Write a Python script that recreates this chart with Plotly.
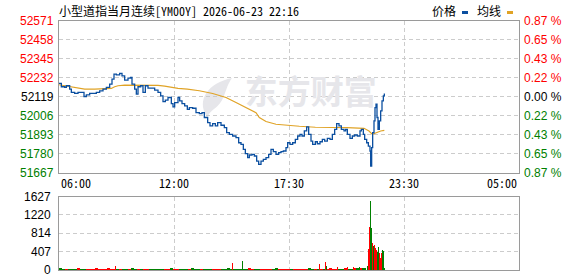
import plotly.graph_objects as go
import numpy as np

W, H = 578, 276

# ---------------- data ----------------
title_text = "小型道指当月连续[YM00Y] 2026-06-23 22:16"
prev_close = 52119
price_ticks = [51667, 51780, 51893, 52006, 52119, 52232, 52345, 52458, 52571]
vol_ticks = [0, 407, 814, 1220, 1627]
time_ticks = [0, 345, 690, 1035, 1380]
time_labels = ["06:00", "12:00", "17:30", "23:30", "05:00"]

# minutes since 06:00
price_min = [0, 7, 17, 22, 32, 37, 47, 57, 67, 75, 82, 92, 102, 112, 122, 132, 142, 152, 159, 165,
             172, 182, 189, 197, 207, 215, 219, 227, 232, 237, 245, 252, 259, 267, 277, 287, 297, 305,
             312, 319, 327, 337, 342, 347, 357, 362, 369, 377, 385, 391, 401, 411, 421, 429, 436, 446,
             453, 461, 469, 476, 486, 496, 503, 511, 521, 531, 539, 546, 553, 559, 566, 571, 579, 586,
             593, 599, 606, 613, 621, 629, 636, 643, 651, 659, 666, 673, 681, 686, 693, 701, 709, 716,
             723, 729, 736, 743, 749, 756, 761, 769, 775, 783, 790, 797, 805, 813, 820, 827, 833, 840,
             847, 855, 860, 865, 873, 880, 887, 895, 903, 907, 913, 917, 923, 928, 933, 935, 938, 941,
             945, 948, 951, 954, 957, 961, 965, 969, 973, 976]
price_val = [52197, 52177, 52173, 52183, 52163, 52143, 52137, 52143, 52143, 52119, 52129, 52137, 52137,
             52143, 52153, 52163, 52173, 52193, 52222, 52252, 52248, 52256, 52242, 52216, 52228, 52232,
             52193, 52163, 52133, 52177, 52183, 52143, 52183, 52169, 52169, 52157, 52143, 52123, 52089,
             52097, 52113, 52077, 52057, 52083, 52113, 52093, 52077, 52063, 52043, 52053, 52049, 52023,
             52017, 52023, 51994, 51964, 51944, 51958, 51944, 51964, 51948, 51934, 51904, 51894, 51884,
             51874, 51844, 51834, 51805, 51779, 51755, 51771, 51775, 51765, 51735, 51715, 51735, 51745,
             51755, 51775, 51805, 51791, 51775, 51785, 51791, 51795, 51815, 51844, 51834, 51844, 51864,
             51884, 51894, 51884, 51914, 51938, 51894, 51854, 51834, 51850, 51838, 51850, 51864, 51854,
             51870, 51864, 51894, 51924, 51958, 51944, 51924, 51914, 51924, 51894, 51870, 51884, 51890,
             51884, 51914, 51924, 51894, 51864, 51844, 51824, 51795, 51705, 51815, 51904, 51974, 52053,
             52073, 51994, 51924, 51974, 52033, 52093, 52123, 52137]

avg_min = [0, 27, 57, 77, 107, 137, 157, 167, 177, 197, 237, 277, 297, 317, 337, 357, 385, 421, 461,
           501, 531, 561, 591, 601, 621, 651, 681, 721, 769, 825, 865, 915, 930, 940, 950, 965, 976]
avg_val = [52189, 52181, 52169, 52163, 52163, 52163, 52167, 52177, 52183, 52187, 52187, 52185, 52185,
           52181, 52173, 52167, 52163, 52153, 52137, 52113, 52083, 52053, 52023, 51994, 51970, 51954,
           51948, 51942, 51936, 51936, 51934, 51930, 51914, 51894, 51904, 51914, 51918]

# quiet-session volume, one value per 9-minute block
base_vol = [38, 30, 26, 33, 24, 29, 35, 27, 22, 31,
            28, 25, 34, 30, 23, 27, 36, 29, 24, 26,
            32, 28, 22, 30, 35, 25, 27, 31, 24, 29,
            26, 33, 28, 23, 30, 27, 25, 34, 29, 22,
            28, 31, 26, 24, 35, 30, 27, 23, 29, 32,
            25, 28, 33, 26, 24, 30, 36, 27, 22, 29,
            31, 25, 28, 34, 27, 23, 30, 26, 32, 29,
            24, 28, 35, 27, 25, 31, 22, 29, 33, 26,
            30, 24, 28, 36, 27, 25, 32, 29, 23, 30,
            34, 26, 28, 31, 25, 37, 29, 33, 40, 35,
            42, 38]

# individual visible volume bars (3-minute)
detail_min = [168, 519, 549, 780, 798, 801, 834, 864, 882, 900, 918,
              924, 927, 930, 933, 936, 939, 942, 945, 948, 951, 954, 957, 960, 963, 966, 969, 972, 975]
detail_vol = [90, 150, 190, 133, 170, 96, 67, 67, 67, 67, 52,
              90, 466, 962, 1517, 925, 592, 540, 555, 496, 444, 407, 518, 370, 259, 370, 444, 422, 37]
detail_dir = ["r", "r", "g", "r", "r", "g", "r", "r", "r", "g", "g",
              "g", "r", "r", "g", "g", "r", "g", "r", "r", "r", "g", "g", "r", "r", "r", "g", "g", "g"]

# ---------------- style ----------------
RED = "#ff0000"
GREEN = "#008000"
BLUE = "#0b4fa0"
ORANGE = "#e0a326"
FRAME = "#9a9a9a"
GRID = "#cccccc"
NUMFONT = "Liberation Sans, Arial, sans-serif"
CJKFONT = "Noto Sans Mono CJK SC, Noto Sans CJK SC, sans-serif"


def px(x):
    return x / W


def py(y):
    return 1 - y / H


X_DOM = [px(59), px(519)]
P_DOM = [py(172.5), py(20.5)]
V_DOM = [py(270), py(196.5)]

fig = go.Figure()

# watermark (drawn first so it's beneath the lines)
fig.add_trace(go.Scatter(x=[755], y=[52124], mode="text", text=["<b>东方财富</b>"],
                         textfont=dict(size=33, color="#e6e6ea", family="Noto Sans CJK SC"),
                         hoverinfo="skip", showlegend=False, xaxis="x", yaxis="y"))

fig.add_trace(go.Scatter(x=avg_min, y=avg_val, mode="lines", line=dict(color=ORANGE, width=1.2),
                         showlegend=False, xaxis="x", yaxis="y"))
fig.add_trace(go.Scatter(x=price_min, y=price_val, mode="lines", line=dict(color=BLUE, width=1.3, shape="hv"),
                         showlegend=False, xaxis="x", yaxis="y"))

# volume
base_x = [4.5 + 9 * i for i in range(len(base_vol))]
p_now = np.interp(base_x, price_min, price_val)
p_prev = np.interp([b - 9 for b in base_x], price_min, price_val)
base_col = [RED if a >= b else GREEN for a, b in zip(p_now, p_prev)]
fig.add_trace(go.Bar(x=base_x, y=base_vol, width=9, marker=dict(color=base_col, line=dict(width=0)),
                     showlegend=False, xaxis="x2", yaxis="y2"))
fig.add_trace(go.Bar(x=detail_min, y=detail_vol, width=3,
                     marker=dict(color=[RED if d == "r" else GREEN for d in detail_dir], line=dict(width=0)),
                     showlegend=False, xaxis="x2", yaxis="y2"))

axis_common = dict(showline=True, linecolor=FRAME, linewidth=1, mirror=True, zeroline=False,
                   showgrid=True, gridcolor=GRID, gridwidth=1, griddash="4px,3px",
                   showticklabels=False, ticks="", fixedrange=True)

fig.update_layout(
    width=W, height=H, margin=dict(l=0, r=0, t=0, b=0),
    paper_bgcolor="white", plot_bgcolor="white",
    barmode="overlay", bargap=0, showlegend=False,
    xaxis=dict(domain=X_DOM, range=[0, 1380], tickvals=time_ticks[1:-1], anchor="y", **axis_common),
    yaxis=dict(domain=P_DOM, range=[price_ticks[0], price_ticks[-1]], tickvals=price_ticks, anchor="x",
               **axis_common),
    xaxis2=dict(domain=X_DOM, range=[0, 1380], tickvals=time_ticks[1:-1], anchor="y2", **axis_common),
    yaxis2=dict(domain=V_DOM, range=[vol_ticks[0], vol_ticks[-1]], tickvals=vol_ticks, anchor="x2",
                **axis_common),
)

ann = []
# title
ann.append(dict(text=title_text, x=px(57), y=py(11), xref="paper", yref="paper", xanchor="left",
                yanchor="middle", showarrow=False, font=dict(family=CJKFONT, size=12, color="#000")))
# legend
ann.append(dict(text="价格", x=px(430), y=py(11), xref="paper", yref="paper", xanchor="left",
                yanchor="middle", showarrow=False, font=dict(family=CJKFONT, size=12, color="#000")))
ann.append(dict(text="均线", x=px(475), y=py(11), xref="paper", yref="paper", xanchor="left",
                yanchor="middle", showarrow=False, font=dict(family=CJKFONT, size=12, color="#000")))

# price tick labels (left) and percentage labels (right)
for v in price_ticks:
    col = RED if v > prev_close else (GREEN if v < prev_close else "#000")
    ann.append(dict(text=str(v), x=px(56), y=v, xref="paper", yref="y", xanchor="right",
                    yanchor="middle", showarrow=False, font=dict(family=NUMFONT, size=12, color=col)))
    pct = abs(v - prev_close) / prev_close * 100
    ann.append(dict(text=f"{pct:.2f} %", x=px(522), y=v, xref="paper", yref="y", xanchor="left",
                    yanchor="middle", showarrow=False, font=dict(family=NUMFONT, size=12, color=col)))

# volume tick labels
for v in vol_ticks:
    ann.append(dict(text=str(v), x=px(53), y=v, xref="paper", yref="y2", xanchor="right",
                    yanchor="middle", showarrow=False, font=dict(family=NUMFONT, size=12, color="#000")))

# time labels
for i, (t, lab) in enumerate(zip(time_ticks, time_labels)):
    xa = "left" if i == 0 else ("right" if i == len(time_ticks) - 1 else "center")
    ann.append(dict(text=lab, x=t, y=py(182), xref="x", yref="paper", xanchor=xa,
                    yanchor="middle", showarrow=False, font=dict(family=CJKFONT, size=12, color="#000")))

fig.update_layout(annotations=ann)

# legend swatches and watermark feather icon
shapes = [
    dict(type="rect", xref="paper", yref="paper", x0=px(462), x1=px(468), y0=py(14), y1=py(11),
         fillcolor=BLUE, line=dict(width=0)),
    dict(type="rect", xref="paper", yref="paper", x0=px(507), x1=px(513), y0=py(14), y1=py(11),
         fillcolor=ORANGE, line=dict(width=0)),
]


def pth(pts):
    s = ""
    for cmd, coords in pts:
        s += cmd + " " + " ".join(f"{px(a):.5f},{py(b):.5f}" for a, b in coords) + " "
    return s + "Z"


feather = pth([("M", [(207, 117)]),
               ("C", [(196, 100), (208, 83), (232, 78)]),
               ("C", [(224, 89), (226, 101), (214, 109)]),
               ("C", [(211, 111), (209, 114), (207, 117)])])
shapes.append(dict(type="path", path=feather, xref="paper", yref="paper", fillcolor="#e6e6ea",
                   line=dict(width=0), layer="below"))
fig.update_layout(shapes=shapes)

fig.write_html("out.html", config={"displayModeBar": False, "staticPlot": True})
